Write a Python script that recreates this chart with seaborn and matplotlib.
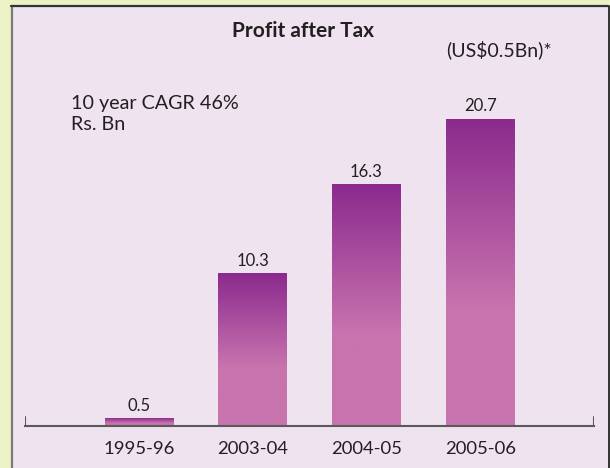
import numpy as np
import pandas as pd
import matplotlib
matplotlib.use('Agg')
import matplotlib.pyplot as plt
import seaborn as sns
from matplotlib.colors import LinearSegmentedColormap
from matplotlib.patches import Rectangle
from matplotlib.lines import Line2D

# data
years = ['1995-96', '2003-04', '2004-05', '2005-06']
pat = [0.5, 10.3, 16.3, 20.7]

df = pd.DataFrame({'year': years, 'pat': pat})

sns.set_theme(style='white')
plt.rcParams['font.family'] = ['Lato', 'DejaVu Sans']

outer_bg = '#edf2c6'
panel_bg = '#eee3ef'
purple = '#8b2a8e'
pink = '#c874ae'

fig = plt.figure(figsize=(6.1, 4.68), dpi=100)
fig.patch.set_facecolor(outer_bg)

# lavender panel with border
W, H = 610, 468
fig.patches.append(Rectangle((11 / W, 0), 597 / W, 462 / H, transform=fig.transFigure,
                             facecolor=panel_bg, edgecolor='none', zorder=-10))
fig.lines.append(Line2D([11.5 / W, 11.5 / W], [0, 462 / H], transform=fig.transFigure,
                        color='#7a7a7a', lw=1.6, zorder=-5))
fig.lines.append(Line2D([11 / W, 608 / W], [462 / H, 462 / H], transform=fig.transFigure,
                        color='#333333', lw=1.6, zorder=-5))
fig.lines.append(Line2D([608.5 / W, 608.5 / W], [0, 462 / H], transform=fig.transFigure,
                        color='#333333', lw=1.4, zorder=-5))

ax = fig.add_axes([25 / W, 42.3 / H, 569 / W, 371 / H])
ax.set_facecolor('none')
ax.set_zorder(2)

sns.barplot(data=df, x='year', y='pat', width=0.6, color=pink, ax=ax, zorder=2)

ax.set_xlim(-1, 4)
ax.set_ylim(0, 25)

# gradient fill: pink at the bottom, purple over the top ~62% of each bar
cmap = LinearSegmentedColormap.from_list('pat', [(0, pink), (0.38, pink), (1, purple)])
grad = np.linspace(0, 1, 256).reshape(-1, 1)
for bar, v in zip(ax.patches, pat):
    x0 = bar.get_x()
    w = bar.get_width()
    im = ax.imshow(grad, cmap=cmap, extent=[x0, x0 + w, 0, v], origin='lower',
                   aspect='auto', zorder=2, interpolation='bilinear')
    im.set_clip_path(bar)
    bar.set_facecolor('none')
    bar.set_edgecolor('none')
    ax.annotate(f'{v}', (x0 + w / 2, v), xytext=(0, 3), textcoords='offset points',
                ha='center', va='bottom', fontsize=12, color='#231f20')

ax.set_xlim(-1, 4)
ax.set_ylim(0, 25)

for s in ['top', 'right', 'left']:
    ax.spines[s].set_visible(False)
ax.spines['bottom'].set_color('#5a5a5a')
ax.spines['bottom'].set_linewidth(1.5)
for xe in ax.get_xlim():
    ax.axvline(xe, ymin=0, ymax=9 / 371, color='#5a5a5a', lw=1.5)

ax.set_yticks([])
ax.set_xlabel('')
ax.set_ylabel('')
ax.tick_params(axis='x', length=0, pad=11, labelsize=13.3, labelcolor='#231f20')

fig.text(303.5 / W, 1 - 31 / H, 'Profit after Tax', ha='center', va='center',
         fontsize=15, fontweight='bold', color='#231f20')
fig.text(446 / W, 1 - 50 / H, '(US$0.5Bn)*', ha='left', va='center',
         fontsize=14, color='#231f20')
fig.text(71 / W, 1 - 103 / H, '10 year CAGR 46%', ha='left', va='center',
         fontsize=14.2, color='#231f20')
fig.text(71 / W, 1 - 125 / H, 'Rs. Bn', ha='left', va='center',
         fontsize=14.2, color='#231f20')

fig.savefig('out.png', dpi=100, facecolor=fig.get_facecolor())
